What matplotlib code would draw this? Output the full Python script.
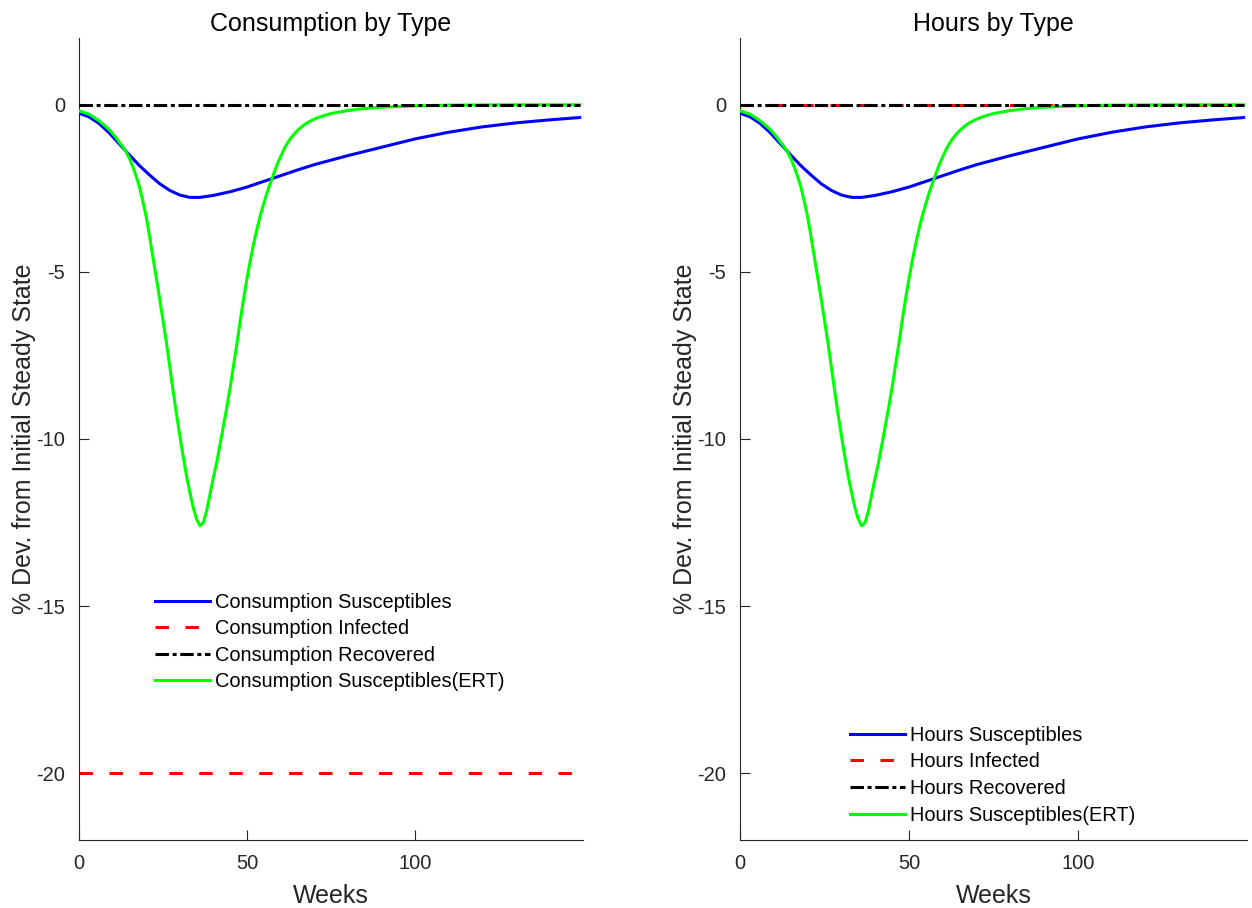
import numpy as np
import matplotlib
matplotlib.use('Agg')
import matplotlib.pyplot as plt

plt.rcParams['font.family'] = ['Liberation Sans', 'DejaVu Sans']
plt.rcParams['axes.unicode_minus'] = False

# Weeks at which the response paths are sampled
weeks_sus = [0, 3, 6, 9, 12, 15, 18, 21, 24, 27, 30, 33, 36, 40, 45, 50, 55, 60,
             65, 70, 80, 90, 100, 110, 120, 130, 140, 149]
# Susceptibles, % deviation from initial steady state
cons_sus = [-0.25, -0.36, -0.56, -0.84, -1.17, -1.50, -1.82, -2.10, -2.36, -2.56,
            -2.70, -2.77, -2.77, -2.71, -2.60, -2.46, -2.29, -2.12, -1.95, -1.79,
            -1.52, -1.27, -1.02, -0.82, -0.66, -0.54, -0.45, -0.38]

weeks_ert = [0, 3, 6, 9, 10, 11, 12, 13, 14, 15, 16, 17, 18, 19, 20, 21, 22, 23,
             24, 25, 26, 27, 28, 29, 30, 31, 32, 33, 34, 35, 36, 37, 38, 39, 40,
             41, 42, 43, 44, 45, 46, 47, 48, 49, 50, 51, 52, 53, 54, 55, 56, 57,
             58, 59, 60, 61, 62, 63, 64, 65, 66, 67, 68, 70, 72, 75, 80, 85, 90,
             100, 110, 130, 149]
# Susceptibles under ERT
cons_ert = [-0.18, -0.28, -0.48, -0.74, -0.86, -0.98, -1.12, -1.25, -1.40, -1.60,
            -1.85, -2.13, -2.45, -2.88, -3.35, -3.93, -4.56, -5.17, -5.80, -6.45,
            -7.10, -7.82, -8.55, -9.25, -9.90, -10.52, -11.10, -11.60, -12.05,
            -12.40, -12.60, -12.50, -12.15, -11.65, -11.15, -10.70, -10.15, -9.60,
            -9.05, -8.45, -7.80, -7.15, -6.45, -5.80, -5.20, -4.65, -4.15, -3.70,
            -3.30, -2.95, -2.62, -2.33, -2.05, -1.78, -1.55, -1.33, -1.15, -1.00,
            -0.88, -0.77, -0.68, -0.60, -0.53, -0.43, -0.35, -0.26, -0.17, -0.11,
            -0.07, -0.03, -0.01, 0.0, 0.0]

# Infected and recovered are flat over the horizon
weeks_flat = [0, 149]
cons_inf = [-20, -20]
cons_rec = [0, 0]

hours_sus = list(cons_sus)
hours_ert = list(cons_ert)
hours_inf = [0, 0]
hours_rec = [0, 0]

panels = [
    ('Consumption by Type', 'Consumption', cons_sus, cons_inf, cons_rec, cons_ert),
    ('Hours by Type', 'Hours', hours_sus, hours_inf, hours_rec, hours_ert),
]

W, H = 1252, 908
fig = plt.figure(figsize=(W / 100, H / 100), dpi=100)
axes_px = [(79, 38, 583, 840), (740, 38, 1247, 840)]
legend_anchor = [(0.151, 0.3085), (0.217, 0.1425)]

lw = 2.2
axcol = '#262626'

for (x0, y0, x1, y1), (title, name, sus, inf, rec, ert), anchor in zip(axes_px, panels, legend_anchor):
    ax = fig.add_axes([x0 / W, 1 - y1 / H, (x1 - x0) / W, (y1 - y0) / H])
    h1, = ax.plot(weeks_sus, sus, color=(0, 0, 1), lw=lw, zorder=3)
    h2, = ax.plot(weeks_flat, inf, color=(1, 0, 0), lw=lw, dashes=(4.4, 5.4), zorder=2)
    h4, = ax.plot(weeks_ert, ert, color=(0, 1, 0), lw=lw, zorder=4)
    h3, = ax.plot(weeks_flat, rec, color='k', lw=lw, dashes=(4.4, 1.2, 1.3, 1.2), zorder=5)

    ax.set_xlim(0, 150)
    ax.set_ylim(-22, 2)
    ax.set_xticks([0, 50, 100])
    ax.set_yticks([-20, -15, -10, -5, 0])
    ax.spines['top'].set_visible(False)
    ax.spines['right'].set_visible(False)
    for s in ('left', 'bottom'):
        ax.spines[s].set_color(axcol)
        ax.spines[s].set_linewidth(0.8)
    ax.tick_params(direction='in', length=7, width=0.8, color=axcol,
                   labelcolor=axcol, labelsize=14.5, pad=10)
    ax.set_title(title, fontsize=18, pad=5)
    ax.set_xlabel('Weeks', fontsize=18, color=axcol, labelpad=8)
    ax.set_ylabel('% Dev. from Initial Steady State', fontsize=18, color=axcol, labelpad=0)

    ax.legend([h1, h2, h3, h4],
              [name + ' Susceptibles', name + ' Infected', name + ' Recovered',
               name + ' Susceptibles(ERT)'],
              loc='upper left', bbox_to_anchor=anchor, frameon=False,
              fontsize=14.4, handlelength=2.75, handletextpad=0.25,
              labelspacing=0.38, borderaxespad=0, borderpad=0)

fig.savefig('out.png', dpi=100)
